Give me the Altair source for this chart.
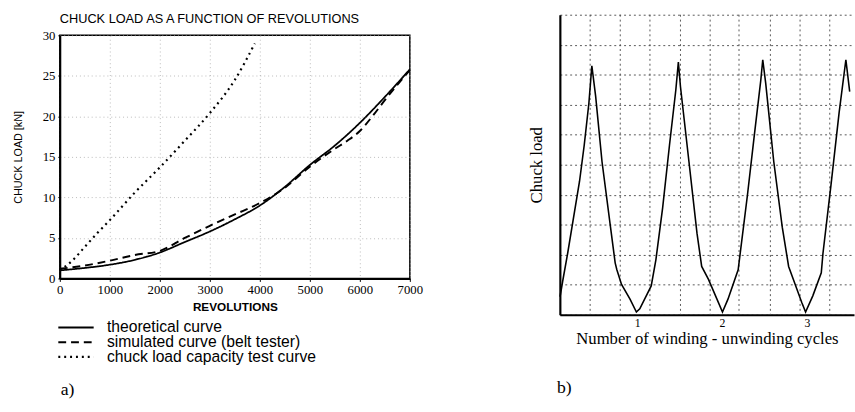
import altair as alt
import pandas as pd

# ---------------- panel a) data ----------------
chart_title_a = "CHUCK LOAD AS A FUNCTION OF REVOLUTIONS"
series_names = [
    "theoretical curve",
    "simulated curve (belt tester)",
    "chuck load capacity test curve",
]
rev_theoretical = [0, 500, 1000, 1500, 2000, 2500, 3000, 3500, 4000, 4500, 5000, 5500, 6000, 6500, 7000]
load_theoretical = [1.0, 1.3, 1.7, 2.3, 3.2, 4.5, 5.8, 7.3, 9.0, 11.3, 14.0, 16.4, 19.2, 22.4, 25.8]

rev_simulated = [0, 500, 1000, 1500, 2000, 2500, 3000, 3500, 4000, 4500, 5000, 5500, 5750, 6000, 6250, 6500, 7000]
load_simulated = [1.2, 1.6, 2.2, 2.9, 3.4, 5.0, 6.5, 7.9, 9.3, 11.2, 13.8, 16.0, 17.0, 18.2, 20.0, 22.0, 25.7]

rev_capacity = [0, 250, 500, 750, 1000, 1500, 2000, 2500, 3000, 3500, 3900]
load_capacity = [1.0, 2.2, 3.9, 5.6, 7.2, 10.6, 13.7, 17.0, 20.4, 24.5, 29.0]

x_ticks_a = [0, 1000, 2000, 3000, 4000, 5000, 6000, 7000]
y_ticks_a = [0, 5, 10, 15, 20, 25, 30]

# ---------------- panel b) data ----------------
cycles = [0.09, 0.12, 0.18, 0.32, 0.375, 0.43, 0.465, 0.51, 0.585, 0.685, 0.74, 0.76, 0.815, 0.915, 0.99,
          1.03, 1.165, 1.22, 1.30, 1.38, 1.455, 1.485, 1.51, 1.61, 1.705, 1.76, 1.84, 1.94, 2.005,
          2.07, 2.19, 2.30, 2.38, 2.457, 2.48, 2.515, 2.61, 2.71, 2.785, 2.84, 2.94, 2.985,
          3.07, 3.17, 3.19, 3.285, 3.38, 3.46, 3.505]
chuck_load = [0.6, 1.1, 2.05, 4.45, 5.65, 7.05, 8.3, 7.28, 5.1, 2.92, 1.73, 1.5, 1.01, 0.52, 0.09,
              0.2, 0.96, 1.83, 3.57, 5.64, 7.49, 8.42, 7.6, 5.1, 2.71, 1.61, 1.18, 0.52, 0.09,
              0.52, 1.5, 4.0, 5.97, 7.82, 8.5, 7.71, 5.1, 2.92, 1.61, 1.18, 0.41, 0.09,
              0.63, 1.4, 2.05, 4.34, 6.73, 8.5, 7.44]
x_ticks_b = [1, 2, 3]
y_grid_b = [0, 1, 2, 3, 4, 5, 6, 7, 8, 9, 10]
x_grid_b = [0.445, 0.80, 1.15, 1.51, 1.86, 2.20, 2.57, 2.92, 3.27]

# ---------------- tables ----------------
rows = []
for name, xs, ys in zip(series_names,
                        [rev_theoretical, rev_simulated, rev_capacity],
                        [load_theoretical, load_simulated, load_capacity]):
    for xv, yv in zip(xs, ys):
        rows.append({"series": name, "rev": xv, "load": yv})
df_a = pd.DataFrame(rows)
df_b = pd.DataFrame({"cycle": cycles, "load": chuck_load})
df_grid_b = pd.DataFrame({"gx": x_grid_b})

SANS = "Liberation Sans"
SERIF = "Liberation Serif"

# ---------------- panel a ----------------
title_a = alt.Chart(pd.DataFrame({"t": [chart_title_a]})).mark_text(
    font=SANS, fontSize=13, align="left", baseline="middle", color="black"
).encode(text="t:N", x=alt.value(0), y=alt.value(4)).properties(
    width=357, height=10, view=alt.ViewBackground(stroke="transparent")
)

lines_a = alt.Chart(df_a).mark_line(color="black", interpolate="monotone").encode(
    x=alt.X("rev:Q",
            scale=alt.Scale(domain=[0, 7000], nice=False),
            axis=alt.Axis(values=x_ticks_a, title="REVOLUTIONS", format="d",
                          labelFont=SERIF, labelFontSize=13, labelColor="black",
                          labelPadding=2, tickSize=3, tickColor="black",
                          titleFont=SANS, titleFontSize=12, titleFontWeight="bold",
                          titleColor="black", titlePadding=6,
                          domainColor="black", domainWidth=2,
                          grid=True, gridColor="#aaa", gridDash=[1, 3], gridOpacity=0.8)),
    y=alt.Y("load:Q",
            scale=alt.Scale(domain=[0, 30], nice=False),
            axis=alt.Axis(values=y_ticks_a, title="CHUCK LOAD [kN]",
                          labelFont=SERIF, labelFontSize=13, labelColor="black",
                          labelPadding=3, tickSize=2, tickColor="black",
                          titleFont=SANS, titleFontSize=11, titleFontWeight="normal",
                          titleColor="black", titlePadding=19,
                          domainColor="black", domainWidth=2,
                          grid=True, gridColor="#aaa", gridDash=[1, 3], gridOpacity=0.8)),
    strokeDash=alt.StrokeDash("series:N",
                              scale=alt.Scale(domain=series_names, range=[[1, 0], [8, 5], [2, 4]]),
                              legend=alt.Legend(orient="none", legendX=-3, legendY=312, title=None,
                                                symbolType="stroke", symbolSize=1300,
                                                symbolStrokeColor="black", symbolStrokeWidth=2.2,
                                                labelFont=SANS, labelFontSize=16, labelColor="black",
                                                labelLimit=0, labelOffset=12, rowPadding=-4,
                                                clipHeight=14)),
    strokeWidth=alt.StrokeWidth("series:N",
                                scale=alt.Scale(domain=series_names, range=[1.8, 2.2, 3.0]),
                                legend=None),
)

label_a = alt.Chart(pd.DataFrame({"t": ["a)"]})).mark_text(
    font=SERIF, fontSize=18, align="left", baseline="middle", color="black"
).encode(text="t:N", x=alt.value(1), y=alt.value(362))

main_a = alt.layer(lines_a, label_a).properties(
    width=357, height=248,
    view=alt.ViewBackground(stroke="black", strokeWidth=1.5),
)

chart_a = alt.vconcat(title_a, main_a, spacing=2)

# ---------------- panel b ----------------
grid_b = alt.Chart(df_grid_b).mark_rule(color="#444", strokeDash=[2, 3], strokeWidth=0.9).encode(
    x=alt.X("gx:Q", scale=alt.Scale(domain=[0.088, 3.556], nice=False))
)

line_b = alt.Chart(df_b).mark_line(color="black", strokeWidth=1.6).encode(
    x=alt.X("cycle:Q",
            scale=alt.Scale(domain=[0.088, 3.556], nice=False),
            axis=alt.Axis(values=x_ticks_b, format="d", title="Number of winding - unwinding cycles",
                          labelFont=SERIF, labelFontSize=12, labelColor="black",
                          labelPadding=3, ticks=False, grid=False,
                          titleFont=SERIF, titleFontSize=17, titleFontWeight="normal",
                          titleColor="black", titlePadding=2,
                          domainColor="black", domainWidth=2.2)),
    y=alt.Y("load:Q",
            scale=alt.Scale(domain=[0, 10], nice=False),
            axis=alt.Axis(values=y_grid_b, labels=False, ticks=False, title="Chuck load",
                          titleFont=SERIF, titleFontSize=17, titleFontWeight="normal",
                          titleColor="black", titlePadding=15,
                          domainColor="black", domainWidth=2.2,
                          grid=True, gridColor="#444", gridDash=[2, 3], gridWidth=0.9)),
)

label_b = alt.Chart(pd.DataFrame({"t": ["b)"]})).mark_text(
    font=SERIF, fontSize=18, align="left", baseline="middle", color="black"
).encode(text="t:N", x=alt.value(-3), y=alt.value(381))

chart_b = alt.layer(grid_b, line_b, label_b).properties(
    width=300, height=306,
    view=alt.ViewBackground(stroke="transparent"),
)

chart = alt.hconcat(chart_a, chart_b, spacing=105).properties(
    padding={"left": 12, "top": 8, "right": 0, "bottom": 0},
    background="white",
).configure_axis(labelFlush=False, labelOverlap=False)

chart.save("out.html", embed_options={"renderer": "svg", "actions": False})
